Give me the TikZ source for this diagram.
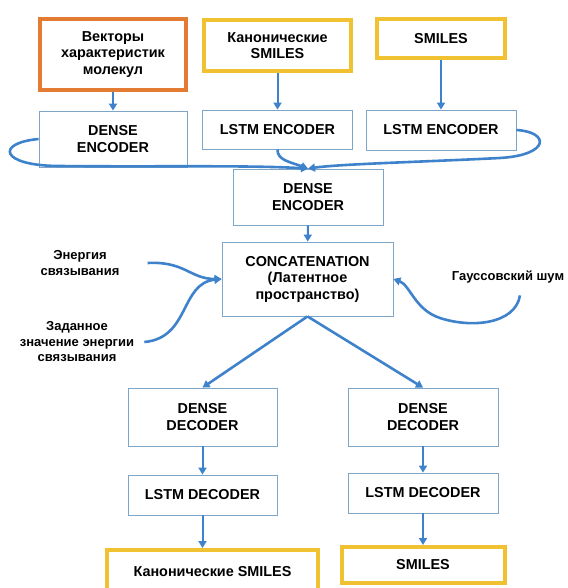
\documentclass[tikz,border=0pt]{standalone}
\usepackage{fontspec}
\setmainfont{Liberation Sans}
\usetikzlibrary{arrows.meta}
\definecolor{arrblue}{HTML}{3F82CC}
\definecolor{boxline}{HTML}{7EA6C8}
\definecolor{orangeline}{HTML}{E37B33}
\definecolor{goldline}{HTML}{F0C232}
\begin{document}
\begin{tikzpicture}[x=1pt, y=-1pt,
  box/.style={draw=boxline, line width=0.8pt, fill=white, align=center, inner sep=1pt,
    font=\fontsize{14.4}{16.5}\selectfont\bfseries},
  inbox/.style={box, draw=goldline, line width=4pt},
  sidetext/.style={align=center, inner sep=2pt, font=\fontsize{13}{15.5}\selectfont\bfseries},
  arr/.style={draw=arrblue, line width=2pt, -{Triangle[length=7pt,width=8pt]}},
  swoop/.style={arr, line width=2.6pt}]
\useasboundingbox (0,0) rectangle (567,588);
% inputs
\node[inbox, draw=orangeline, minimum width=146pt, minimum height=71pt] (vec) at (113,54.5) {Векторы\\характеристик\\молекул};
\node[inbox, minimum width=147pt, minimum height=51pt] (cs) at (277.5,45.5) {Канонические\\SMILES};
\node[inbox, minimum width=128pt, minimum height=39pt] (sm) at (441,38.5) {SMILES};
% encoders
\node[box, minimum width=148pt, minimum height=56pt] (de1) at (113,139) {DENSE\\ENCODER};
\node[box, minimum width=150pt, minimum height=39pt] (le1) at (277.5,129.5) {LSTM ENCODER};
\node[box, minimum width=150pt, minimum height=40pt] (le2) at (441,130) {LSTM ENCODER};
\node[box, minimum width=150pt, minimum height=56pt] (de2) at (308,197) {DENSE\\ENCODER};
\node[box, minimum width=171pt, minimum height=74pt] (conc) at (307.5,279) {CONCATENATION\\(Латентное\\пространство)};
% side inputs
\node[sidetext] (en) at (80,263) {Энергия\\связывания};
\node[sidetext] (zad) at (77,342) {Заданное\\значение энергии\\связывания};
\node[sidetext] (gs) at (508,277) {Гауссовский шум};
% decoders
\node[box, minimum width=149pt, minimum height=58pt] (dd1) at (202.5,417) {DENSE\\DECODER};
\node[box, minimum width=150pt, minimum height=58pt] (dd2) at (423,417) {DENSE\\DECODER};
\node[box, minimum width=149pt, minimum height=40pt] (ld1) at (202.5,495) {LSTM DECODER};
\node[box, minimum width=150pt, minimum height=40pt] (ld2) at (423,493) {LSTM DECODER};
\node[inbox, minimum width=211pt, minimum height=44pt] (out1) at (212.5,572) {Канонические SMILES};
\node[inbox, minimum width=163pt, minimum height=36pt] (out2) at (423,565) {SMILES};

\path[arr] (vec) -- (de1);
\path[arr] (cs) -- (le1);
\path[arr] (sm) -- (le2);
\path[swoop] (de1.west) .. controls (-5,143) and (0,166) .. (60,166) .. controls (150,167) and (250,165) .. (de2.north);
\path[swoop] (le1.south) .. controls (277,160) and (290,162) .. (de2.north);
\path[swoop] (le2.east) .. controls (550,132) and (550,155) .. (500,158) .. controls (420,162) and (340,164) .. (de2.north);
\path[arr] (de2) -- (conc);
\path[swoop] ([xshift=26pt]en.east) .. controls (185,261) and (190,279) .. (conc.west);
\path[swoop] ([xshift=8pt]zad.east) .. controls (190,338) and (180,283) .. (conc.west);
\path[swoop] ([xshift=12pt,yshift=-10pt]gs.south) .. controls (515,325) and (470,328) .. (440,318) .. controls (415,310) and (410,285) .. (conc.east);
\path[swoop] (conc.south) -- (dd1.north);
\path[swoop] (conc.south) -- (dd2.north);
\path[arr] (dd1) -- (ld1);
\path[arr] (ld1.south) -- (ld1.south |- out1.north);
\path[arr] (dd2) -- (ld2);
\path[arr] (ld2) -- (out2);
\end{tikzpicture}
\end{document}
